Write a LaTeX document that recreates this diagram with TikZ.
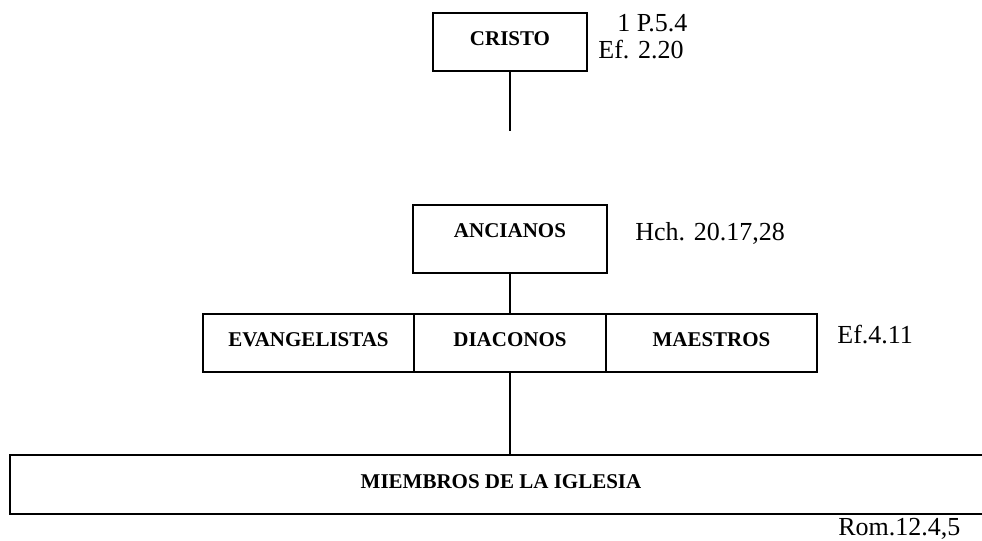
\documentclass[tikz,border=0pt]{standalone}
\usepackage{fontspec}
\setmainfont{Liberation Serif}
\begin{document}
\begin{tikzpicture}[x=0.5pt,y=-0.5pt,
  box/.style={draw,line width=1pt,inner sep=0pt,font=\fontsize{10.5}{12}\selectfont\bfseries,text height=7pt},
  conn/.style={line width=0.8pt},
  ref/.style={inner sep=0pt,anchor=base west,font=\fontsize{13}{15}\selectfont}]
\clip (0,0) rectangle (982,541);
\node[box,minimum width=77pt,minimum height=29pt,text depth=4pt] (cristo) at (510,42) {CRISTO};
\node[box,minimum width=97pt,minimum height=34pt,text depth=9pt] (ancianos) at (510,239) {ANCIANOS};
\node[box,minimum width=105.5pt,minimum height=29pt,text depth=4pt] (evang) at (308.5,343) {EVANGELISTAS};
\node[box,minimum width=96pt,minimum height=29pt,text depth=4pt] (diac) at (510,343) {DIACONOS};
\node[box,minimum width=105.5pt,minimum height=29pt,text depth=4pt] (maes) at (711.5,343) {MAESTROS};
\node[box,draw=none,minimum width=490pt,minimum height=28.5pt,text depth=3.5pt] (miem) at (501,484.5) {MIEMBROS DE LA IGLESIA};
\draw[line width=1pt] (miem.north east) -- (miem.north west) -- (miem.south west) -- (miem.south east);
\coordinate (cend) at (510,131);
\draw[conn] (cristo.south) -- (cend);
\draw[conn] (ancianos.south) -- (diac.north);
\draw[conn] (diac.south) -- (diac.south |- miem.north);
\node[ref] (r1) at (617,31) {1 P.5.4};
\node[ref] (r2) at (598,58) {Ef. 2.20};
\node[ref] (r3) at (635,240) {Hch. 20.17,28};
\node[ref] (r4) at (837,343) {Ef.4.11};
\node[ref] (r5) at (838,535) {Rom.12.4,5};
\end{tikzpicture}
\end{document}
